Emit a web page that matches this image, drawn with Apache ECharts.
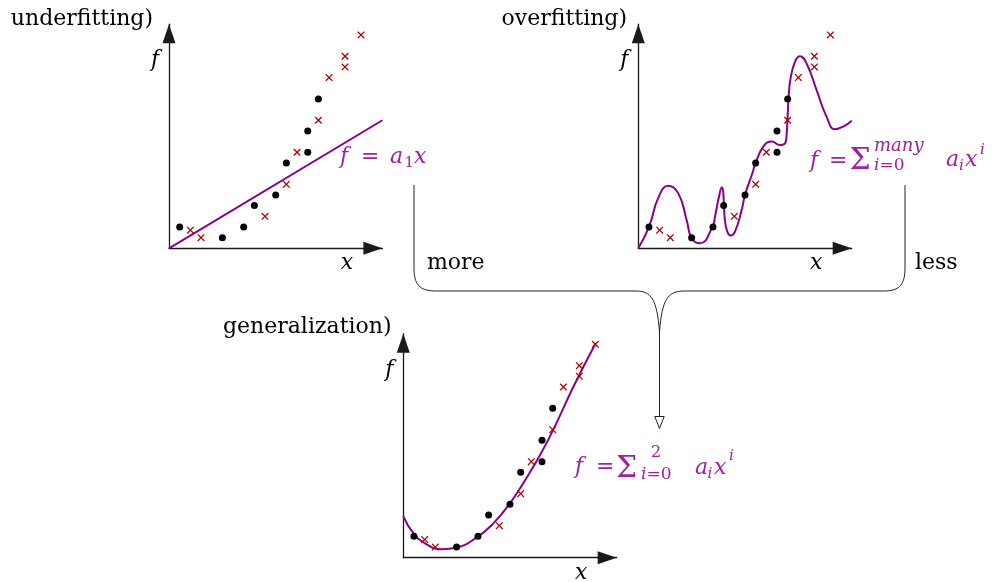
<!DOCTYPE html>
<html><head><meta charset="utf-8">
<script src="https://cdn.jsdelivr.net/npm/echarts@6/dist/echarts.min.js"></script>
<style>html,body{margin:0;padding:0;background:#fff}#c{width:997px;height:582px}</style>
</head><body><div id="c"></div>
<script>
// ---------- data (axis units) ----------
const dotX = [1, 5, 7, 8, 10, 11, 13, 13, 14];
const dotY = [2, 1, 2, 4, 5, 8, 9, 11, 14];
const crossX = [2, 3, 9, 11, 12, 14, 15, 16.5, 16.5, 18];
const crossY = [1.7, 1, 3, 6, 9, 12, 16, 17, 18, 20];

const underX = [0, 20];
const underY = [0, 12];

const overX = [0, 1, 1.9, 2.81, 3.75, 4.53, 5, 5.78, 6.94, 7.19, 7.56, 7.84, 7.97, 8.03, 8.12, 8.34, 8.66, 9.06, 9.69, 10, 10.69, 11, 11.72, 12.5, 13.28, 13.75, 13.88, 14.0, 14.08, 14.25, 14.69, 15.15, 15.78, 16.72, 17.66, 18.44, 19.2, 20];
const overY = [0, 2, 4.8, 5.87, 5.15, 2.65, 0.94, 0.47, 1.97, 2.97, 4.84, 5.72, 5.15, 3.9, 2.65, 1.56, 1.19, 1.56, 3.59, 5, 7.03, 8, 9.53, 10.0, 9.68, 9.84, 10.4, 12.5, 14, 15.8, 17.5, 18.0, 17.3, 14.8, 12.3, 11.15, 11.4, 11.96];

const genX = [0, 0.94, 2.03, 3.6, 5, 6.88, 8.44, 10, 11.72, 12.97, 14.06, 15.93, 18.03];
const genY = [3.9, 2.3, 1.35, 0.79, 0.95, 1.9, 3.22, 5.1, 7.75, 9.9, 12, 16, 20.1];

const panelTitles = ['underfitting)', 'overfitting)', 'generalization)'];
const axisNames = ['x', 'f'];
const branchLabels = ['more', 'less'];

// ---------- layout ----------
const U = 10.67;
const X0 = [169, 638.3, 403.3];
const Y0 = [248.3, 248.3, 557.7];
const XMAX = 20, YMAX = 21;
const PURPLE = '#8b008b';
const TXTPURPLE = '#a020a0';
const RED = '#b00000';
const FONT = '"DejaVu Serif", serif';
const crossPath = 'path://M1.2,0L5,3.8L8.8,0L10,1.2L6.2,5L10,8.8L8.8,10L5,6.2L1.2,10L0,8.8L3.8,5L0,1.2Z';

const zip = (a, b) => a.map((v, i) => [v, b[i]]);
const curves = [zip(underX, underY), zip(overX, overY), zip(genX, genY)];

const grids = [], xAxes = [], yAxes = [], series = [];
for (let i = 0; i < 3; i++) {
  grids.push({left: X0[i], top: Y0[i] - YMAX * U, width: XMAX * U, height: YMAX * U});
  const ax = {
    gridIndex: i, type: 'value', min: 0,
    axisLine: {show: true, onZero: false, symbol: ['none', 'triangle'], symbolSize: [13, 19], symbolOffset: [0, -9.5],
      lineStyle: {color: '#1a1a1a', width: 1.3}},
    axisTick: {show: false}, axisLabel: {show: false}, splitLine: {show: false}
  };
  xAxes.push(Object.assign({}, ax, {max: XMAX}));
  yAxes.push(Object.assign({}, ax, {max: YMAX}));
  series.push({
    type: 'line', xAxisIndex: i, yAxisIndex: i, data: curves[i], showSymbol: false,
    smooth: i === 0 ? false : 0.5, clip: false,
    lineStyle: {color: PURPLE, width: 2}, z: 2, silent: true
  });
  series.push({
    type: 'scatter', xAxisIndex: i, yAxisIndex: i, data: zip(dotX, dotY), symbol: 'circle', symbolSize: 7,
    itemStyle: {color: '#000', opacity: 1}, z: 3, silent: true
  });
  series.push({
    type: 'scatter', xAxisIndex: i, yAxisIndex: i, data: zip(crossX, crossY), symbol: crossPath, symbolSize: 7.5,
    itemStyle: {color: RED, opacity: 1}, z: 3, silent: true
  });
}

// ---------- text helpers ----------
function T(text, x, base, size, opt) {
  opt = opt || {};
  const it = opt.italic ? 'italic ' : '';
  return {
    type: 'text', z: 10, silent: true,
    style: {
      text: text, x: x, y: base - 0.297 * size,
      font: it + size + 'px ' + (opt.family || FONT),
      fill: opt.color || '#000',
      align: opt.align || 'left', textAlign: opt.align || 'left',
      verticalAlign: 'middle', textVerticalAlign: 'middle',
      rich: opt.rich
    }
  };
}
const P = TXTPURPLE;
const g = [];
g.push(T(panelTitles[0], 153, 25.7, 22, {align: 'right'}));
g.push(T(panelTitles[1], 627, 25.7, 22, {align: 'right'}));
g.push(T(panelTitles[2], 391.5, 334, 22, {align: 'right'}));
g.push(T(branchLabels[0], 427, 270, 22));
g.push(T(branchLabels[1], 915, 270, 22));
for (let i = 0; i < 3; i++) {
  g.push(T(axisNames[1], X0[i] - 14, Y0[i] - 181, 22, {italic: true, align: 'center'}));
  g.push(T(axisNames[0], X0[i] + 178, Y0[i] + 22, 22, {italic: true, align: 'center'}));
}
const subRich = {i: {fontStyle: 'italic', fontSize: 17, fontFamily: FONT, color: P}, n: {fontSize: 17, fontFamily: FONT, color: P}};
// panel 1 formula
g.push(T('f', 340, 163.5, 22, {italic: true, color: P}));
g.push(T('=', 361, 163.5, 22, {color: P}));
g.push(T('a', 390, 163.5, 22, {italic: true, color: P}));
g.push(T('1', 404.5, 168, 15, {color: P}));
g.push(T('x', 414, 163.5, 22, {italic: true, color: P}));
// panel 2 formula
g.push(T('f', 810, 167.5, 22, {italic: true, color: P}));
g.push(T('=', 829, 167.5, 22, {color: P}));
g.push(T('\u03A3', 849.5, 170.5, 30, {color: P}));
g.push(T('many', 874, 152, 18, {italic: true, color: P}));
g.push(T('{i|i}{n|=0}', 874, 171, 17, {color: P, rich: subRich}));
g.push(T('a', 946, 167, 22, {italic: true, color: P}));
g.push(T('i', 959, 171, 15, {italic: true, color: P}));
g.push(T('x', 965, 167, 22, {italic: true, color: P}));
g.push(T('i', 980, 155, 15, {italic: true, color: P}));
// panel 3 formula
g.push(T('f', 575, 474, 22, {italic: true, color: P}));
g.push(T('=', 596, 474, 22, {color: P}));
g.push(T('\u03A3', 616, 478.5, 30, {color: P}));
g.push(T('2', 651, 458, 16, {color: P}));
g.push(T('{i|i}{n|=0}', 641, 480, 17, {color: P, rich: subRich}));
g.push(T('a', 695, 475, 22, {italic: true, color: P}));
g.push(T('i', 707.5, 479, 15, {italic: true, color: P}));
g.push(T('x', 714, 475, 22, {italic: true, color: P}));
g.push(T('i', 729, 461, 15, {italic: true, color: P}));

// connectors
const lineSt = {stroke: '#222', fill: null, lineWidth: 1};
function PL(pts) { return {type: 'polyline', silent: true, z: 5, shape: {points: pts}, style: lineSt}; }
function BZ(x1, y1, c1x, c1y, c2x, c2y, x2, y2) {
  return {type: 'bezierCurve', silent: true, z: 5, shape: {x1: x1, y1: y1, cpx1: c1x, cpy1: c1y, cpx2: c2x, cpy2: c2y, x2: x2, y2: y2}, style: lineSt};
}
g.push(PL([[414, 185], [414, 268]]));
g.push(BZ(414, 268, 414, 284, 419, 291, 436, 291));
g.push(PL([[436, 291], [636, 291]]));
g.push(BZ(636, 291, 651, 291, 657, 299, 659.5, 332));
g.push(PL([[905, 185], [905, 268]]));
g.push(BZ(905, 268, 905, 284, 900, 291, 884, 291));
g.push(PL([[884, 291], [684, 291]]));
g.push(BZ(684, 291, 668, 291, 662, 299, 659.5, 332));
g.push(PL([[659.5, 330], [659.5, 417]]));
g.push({type: 'polygon', silent: true, z: 6, shape: {points: [[654.8, 416.5], [664.2, 416.5], [659.5, 428.5]]}, style: {fill: '#fff', stroke: '#222', lineWidth: 1}});

const chart = echarts.init(document.getElementById('c'), null, {renderer: 'canvas'});
chart.setOption({
  animation: false,
  backgroundColor: '#fff',
  grid: grids, xAxis: xAxes, yAxis: yAxes, series: series,
  graphic: {elements: g}
});
</script>
</body></html>
